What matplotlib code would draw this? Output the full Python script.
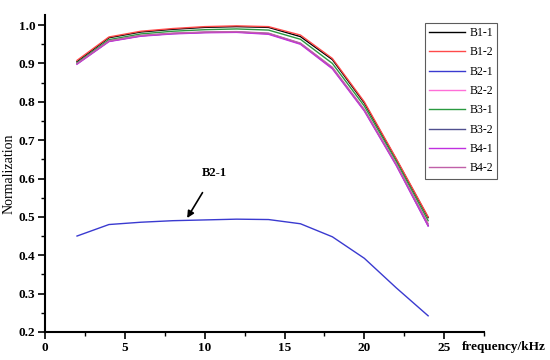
import matplotlib.pyplot as plt
from matplotlib.ticker import MultipleLocator

plt.rcParams['font.family'] = ['Liberation Serif', 'DejaVu Serif']

freq = [2, 4, 6, 8, 10, 12, 14, 16, 18, 20, 22, 24]

names = ['B1-1', 'B1-2', 'B2-1', 'B2-2', 'B3-1', 'B3-2', 'B4-1', 'B4-2']
colors = ['#000000', '#ff4a4a', '#3a3ad0', '#ff6fd8', '#2a9a40', '#50508f', '#c030e0', '#c060a8']

b11 = [0.905, 0.967, 0.982, 0.989, 0.994, 0.996, 0.994, 0.970, 0.910, 0.797, 0.650, 0.498]
b12 = [0.908, 0.969, 0.984, 0.991, 0.996, 0.998, 0.996, 0.974, 0.913, 0.800, 0.652, 0.500]
b21 = [0.450, 0.480, 0.486, 0.490, 0.492, 0.494, 0.493, 0.482, 0.448, 0.392, 0.315, 0.242]
b22 = [0.900, 0.958, 0.972, 0.978, 0.981, 0.982, 0.977, 0.951, 0.887, 0.778, 0.636, 0.478]
b31 = [0.902, 0.962, 0.977, 0.984, 0.988, 0.990, 0.987, 0.963, 0.900, 0.789, 0.645, 0.490]
b32 = [0.899, 0.958, 0.972, 0.978, 0.981, 0.982, 0.978, 0.952, 0.888, 0.778, 0.636, 0.477]
b41 = [0.898, 0.957, 0.971, 0.977, 0.980, 0.981, 0.976, 0.950, 0.886, 0.776, 0.634, 0.476]
b42 = [0.900, 0.959, 0.973, 0.979, 0.982, 0.983, 0.979, 0.953, 0.890, 0.780, 0.638, 0.482]
series = [b11, b12, b21, b22, b31, b32, b41, b42]

xticks = [0, 5, 10, 15, 20, 25]
yticks = [0.2, 0.3, 0.4, 0.5, 0.6, 0.7, 0.8, 0.9, 1.0]

fig = plt.figure(figsize=(5.5, 3.6), dpi=100)
ax = fig.add_axes([0.082, 0.078, 0.798, 0.88])

for name, col, vals in zip(names, colors, series):
    ax.plot(freq, vals, color=col, lw=1.0, label=name)

ax.set_xlim(0, 27.5)
ax.set_ylim(0.2, 1.026)
ax.xaxis.set_minor_locator(MultipleLocator(2.5))
ax.yaxis.set_minor_locator(MultipleLocator(0.05))
ax.set_xticks(xticks)
ax.set_xticklabels([str(v) for v in xticks], fontweight='bold')
ax.set_yticks(yticks)
ax.set_yticklabels(['%.1f' % v for v in yticks], fontweight='bold')
ax.tick_params(which='major', direction='out', length=5, width=1.2, labelsize=9.5, pad=2)
ax.tick_params(which='minor', direction='out', length=3, width=1.0)

ax.spines['top'].set_visible(False)
ax.spines['right'].set_visible(False)
ax.spines['left'].set_linewidth(1.5)
ax.spines['bottom'].set_linewidth(1.5)

ax.set_ylabel('Normalization', fontsize=10)
ax.yaxis.set_label_coords(-0.068, 0.5)
fig.text(0.84, 0.036, 'frequency/kHz', fontsize=9.5, fontweight='bold', ha='left', va='center')

ax.annotate('B2-1', xy=(8.9, 0.497), xytext=(10.6, 0.614), fontsize=9, fontweight='bold',
            ha='center', va='center',
            arrowprops=dict(arrowstyle='-|>', color='black', lw=1.2, shrinkA=9, shrinkB=0,
                            mutation_scale=10))

leg = ax.legend(loc='upper left', bbox_to_anchor=(0.866, 0.975), fontsize=8.5, frameon=True,
                fancybox=False, edgecolor='#333333', handlelength=3.0, labelspacing=0.62,
                borderpad=0.35, handletextpad=0.4, borderaxespad=0)
leg.get_frame().set_linewidth(0.8)

fig.savefig('out.png', dpi=100)
